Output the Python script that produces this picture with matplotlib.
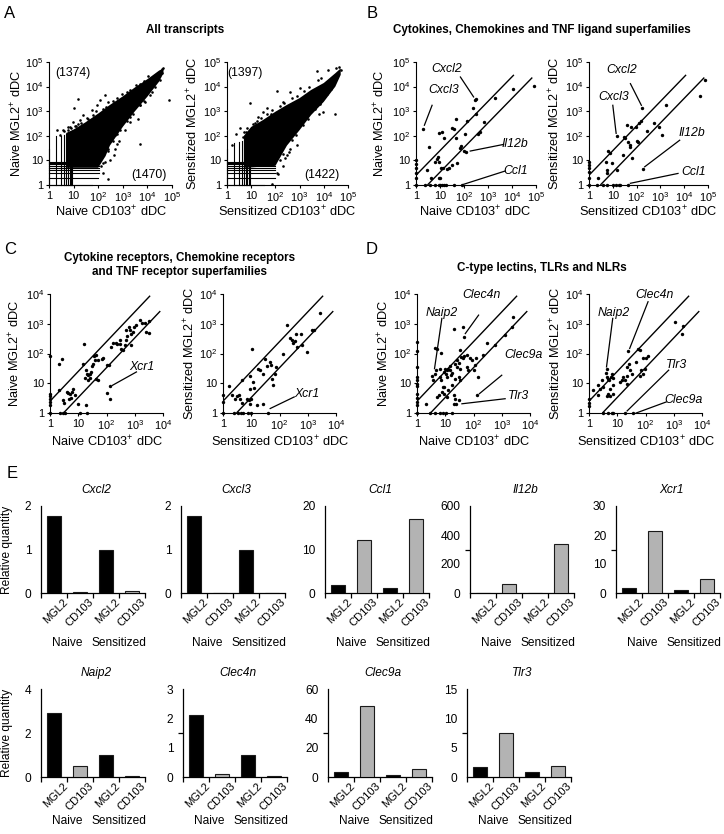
import numpy as np
import matplotlib
matplotlib.use('Agg')
import matplotlib.pyplot as plt
from matplotlib.ticker import FixedLocator, NullLocator
from matplotlib.transforms import ScaledTranslation

plt.rcParams['font.family'] = ['Liberation Sans', 'DejaVu Sans']
plt.rcParams['mathtext.fontset'] = 'custom'
plt.rcParams['mathtext.rm'] = 'Liberation Sans'
plt.rcParams['mathtext.it'] = 'Liberation Sans:italic'
plt.rcParams['mathtext.bf'] = 'Liberation Sans:bold'

# ---------------- DATA ----------------
# Panel A: dense cloud envelope (x, upper y) and (x, lower y), low-count columns/rows, outliers
a1_hi_x = [5, 10, 30, 100, 300, 1000, 3000, 1e4, 3e4, 4.5e4]
a1_hi_y = [130, 180, 350, 800, 1800, 4000, 9000, 2e4, 4.5e4, 5.5e4]
a1_lo_x = [4.5e4, 3e4, 1e4, 3000, 1000, 300, 200, 100, 5]
a1_lo_y = [3.5e4, 1.6e4, 3900, 950, 230, 40, 15, 5, 5]
a1_col_x = [1, 2, 3, 4, 5, 6, 7, 8, 9]
a1_col_top = [30, 100, 100, 110, 120, 120, 130, 130, 150]
a1_row_y = [1, 2, 3, 4, 5, 6, 7, 8, 9]
a1_row_end = [55, 100, 110, 110, 110, 110, 110, 110, 110]
a1_out_x = [14.7, 10.4, 3.8, 2.2, 2.8, 6.1, 9.8, 18, 25, 55, 88, 120, 190, 5100, 7.3e4, 3.9e4,
            4.4e4, 4.1e4, 3.5e4, 2.8e4, 2.6e4, 2e4, 780, 1250, 2000, 490, 300, 240, 420, 190,
            260, 570, 2700, 5100, 8200, 1.3e4, 650, 1600, 3.2e4, 4e3,
            4, 6, 8, 12, 15, 20, 40, 60, 150, 200, 400, 600, 1500, 2000, 5000, 7000,
            150, 130, 250, 400, 600, 800, 1500, 2000, 5000, 7000, 1.5e4, 2e4, 150, 300, 500, 700,
            7, 11, 35, 80, 250, 900, 3500, 1.1e4]
a1_out_y = [3050, 1390, 168, 168, 105, 230, 370, 430, 700, 1100, 1800, 2900, 4600, 48, 2860, 3.5e4,
            5.8e4, 5.2e4, 4.4e4, 3.1e4, 3.6e4, 2.8e4, 270, 170, 370, 105, 66, 30, 16, 8.5,
            1.8, 48, 800, 1800, 2400, 4600, 2600, 3500, 1.9e4, 480,
            150, 170, 200, 250, 300, 330, 500, 700, 1200, 1500, 2600, 3300, 6000, 7000, 1.3e4, 1.7e4,
            8, 6, 25, 60, 120, 180, 400, 600, 1800, 2500, 6000, 1e4, 3, 10, 30, 60,
            220, 260, 520, 1000, 2400, 5200, 1.2e4, 2.6e4]

a2_hi_x = [5, 10, 30, 100, 300, 1000, 3000, 1e4, 3e4, 5e4]
a2_hi_y = [100, 230, 430, 950, 1800, 3400, 7300, 1.4e4, 3.5e4, 5.5e4]
a2_lo_x = [5e4, 3e4, 1e4, 3000, 1000, 300, 100, 5]
a2_lo_y = [3e4, 1e4, 2400, 700, 170, 40, 6, 5]
a2_col_x = [1, 2, 3, 4, 5, 6, 7, 8, 9]
a2_col_top = [30, 50, 55, 60, 60, 70, 80, 90, 100]
a2_row_y = [1, 2, 3, 4, 5, 6, 7, 8, 9]
a2_row_end = [35, 100, 100, 100, 100, 100, 100, 100, 100]
a2_out_x = [3.3, 1.6, 9.1, 32, 47, 64, 113, 200, 400, 1030, 5000, 1.5e4, 3.3e4, 5.2e4, 9300,
            2.8e4, 6500, 750, 290, 210, 640, 130, 70, 20, 15, 2.4, 4.5, 6, 600, 2500, 4e4, 4.4e4,
            5, 7, 12, 18, 25, 45, 70, 150, 220, 500, 800, 1500, 2500, 6000, 8000,
            150, 200, 350, 500, 700, 1400, 2200, 4500, 7000, 1.4e4, 2e4, 250, 400, 120]
a2_out_y = [210, 44, 2100, 950, 1300, 740, 6600, 2460, 6300, 8600, 4.4e4, 4.8e4, 5.6e4, 4.8e4, 950,
            740, 740, 41, 16, 6.2, 150, 2.8, 1.1, 600, 330, 120, 90, 140, 2000, 5000, 3.4e4, 6.5e4,
            140, 200, 300, 400, 520, 800, 1100, 1600, 2100, 3300, 4200, 6500, 9500, 1.8e4, 2.2e4,
            10, 18, 22, 70, 110, 280, 500, 1200, 2000, 5000, 8000, 12, 30, 3]

# Panel B
b1_x = [2, 277, 316, 229, 330, 2000, 1.07e4, 8.5e4, 48, 660, 133, 32, 40, 12, 9, 14, 3.6, 48, 107,
        380, 480, 66, 97, 125, 72, 51, 32, 23, 19, 7.5, 8.3, 9.4, 6.4, 11.4, 12.9, 3, 4.4, 8.8, 10.3,
        1, 1, 1, 1, 1, 1, 2.4, 4, 6.4, 8.8, 10.3, 12, 14, 18, 37, 82]
b1_y = [186, 2800, 3100, 1300, 800, 3500, 8300, 1.1e4, 500, 370, 400, 200, 190, 145, 125, 83, 36, 78, 113,
        117, 137, 33, 25, 22, 38, 7.5, 6.5, 4.7, 4.3, 11, 14, 8.8, 8.8, 5, 4.7, 4, 2, 2, 1.9,
        10, 7, 5, 3, 2, 1, 1, 1, 1, 1, 1, 1, 1, 1, 1, 1]
b2_x = [7.6e4, 4.7e4, 1750, 175, 148, 125, 270, 550, 850, 1200, 90, 40, 60, 100, 114, 31, 34, 43, 52,
        55, 15, 6.5, 7.5, 5.2, 5.5, 5.9, 9, 15, 28, 194, 62, 2.3,
        1, 1, 1, 1, 1, 1, 2.1, 4, 5.5, 10.7, 14, 19, 20, 43]
b2_y = [1.8e4, 4200, 1870, 1290, 390, 330, 150, 330, 230, 110, 230, 280, 230, 60, 54, 91, 80, 54, 42,
        36, 98, 24, 20, 8.8, 4, 3, 7.5, 4, 16, 4.5, 12, 2,
        8.8, 6.5, 4.7, 3.5, 1.9, 1, 1, 1, 1, 1, 1, 1, 1, 1]

# Panel C
c1_x = [1, 1, 1, 1, 1, 1, 1, 2.1, 2.1, 2.6, 3, 3.2, 3.9, 4.5, 5.1, 5.8, 4.9, 5.5, 6.6, 7.6,
        2.25, 3, 3.4, 11.5, 20, 10, 16, 15, 18.6, 20.8, 22.5, 25.8, 28, 17, 22.5, 25.8, 19,
        29.5, 33.7, 38.6, 35.7, 42, 50, 44, 50, 70, 76, 106, 124, 130, 105, 130, 142,
        172, 212, 237, 295, 310, 337, 385, 440, 510, 535, 510, 660, 760, 870, 630, 920, 760,
        1150, 1500, 1850, 2250, 2600, 3200, 3200]
c1_y = [81, 4.5, 3.6, 3.0, 2.3, 1.8, 1, 44, 5.8, 63, 2.8, 2.1, 5.1, 4.8, 4.4, 5.1, 3.0, 3.1, 6.6, 3.9,
        1, 1, 1, 1, 1, 2, 205, 44, 27, 21, 18.6, 21, 24, 15.5, 12.6, 15.5, 1.9,
        37, 46, 60, 81, 88, 60, 14, 12.6, 63, 73, 40, 40, 8, 4.7, 3, 167,
        218, 228, 207, 280, 207, 147, 130, 190, 280, 380, 610, 610, 470, 540, 790, 790, 190,
        900, 1320, 1020, 1020, 540, 500, 1200]
c2_x = [1, 1, 1, 1.6, 2.1, 2.5, 3.3, 4.2, 5.3, 7.4, 9.6, 38, 2.7, 3.1, 3.6, 4.1, 4.7, 4.7,
        7, 8, 8.7, 9.7, 10.6, 9.2, 11.4, 8.7, 12.8, 15.8, 26, 18, 20.8, 27, 31, 36, 47, 49.5,
        53, 58, 70, 76, 138, 180, 240, 270, 310, 355, 385, 410, 610, 1370, 1650, 2700, 560, 920]
c2_y = [3.9, 2.4, 1, 8, 3.9, 1, 1, 1, 1, 1, 1, 1, 3.0, 3.6, 3.9, 3.0, 2.1, 13,
        3, 2.7, 2, 3, 140, 17, 11, 6.6, 7.1, 1.8, 2, 31, 27, 21, 63, 37, 52, 40,
        14.4, 9, 21, 34, 100, 900, 320, 280, 217, 265, 470, 167, 190, 610, 640, 2250, 470, 115]

# Panel D
d1_x = [1, 1, 1, 1, 1, 1, 1, 1, 1, 1, 1, 1, 2.1, 3.4, 3.7, 4.4, 4.8, 4.2, 5, 7,
        6.6, 6.3, 7, 8.3, 9.2, 11.4, 7.6, 5.8, 5.1, 3, 4.4, 6.6, 8.3, 10.4, 17,
        10, 10.8, 12, 13, 14.2, 15, 15.8, 17, 9.2, 11.4, 8.7, 13, 17, 19.6, 22.5, 29.5,
        20, 44, 47, 32, 36.6, 42, 47, 58, 25.8, 29.5, 22.5, 25.8, 33.7, 76, 87, 58, 66,
        29.5, 33.7, 22.5, 125, 114, 100, 295, 580, 140, 130, 25, 20, 1300, 2300, 2500, 225]
d1_y = [245, 120, 36, 16, 12.6, 9.7, 8, 4.5, 3.2, 2.3, 1.8, 1, 2, 17, 12.6, 21, 27, 155, 137, 105,
        31, 16, 12.6, 7.5, 4.5, 3.5, 5.1, 3.9, 3.5, 1, 1, 1, 1, 1, 1,
        29, 20, 27, 31, 37, 27, 18.6, 22, 24, 16, 7.5, 5.8, 8.6, 3.9, 3, 2.7,
        650, 750, 360, 130, 77, 73, 81, 88, 60, 48, 44, 34, 31, 68, 60, 36, 27,
        16, 12.6, 14.4, 68, 40, 27, 230, 190, 16, 4, 2, 2, 415, 790, 1700, 88]
d2_x = [1, 1, 1, 1.4, 2.1, 2.4, 2.8, 3.2, 2.1, 4, 4.2, 4.8, 5.2, 5.8, 6.3, 6.8, 7.2, 5.5, 4.8,
        4.2, 5.5, 6.8, 3.2, 4.8, 6.3, 7.2, 4.2, 12.4, 14.2, 16.3, 18.6, 21.3, 22.5, 24,
        55, 66, 83, 108, 124, 48, 28, 32, 22.5, 26.5, 63, 72, 83, 95, 1090, 2100, 2000, 19, 36]
d2_y = [3, 2.2, 1.7, 5.8, 8.6, 6.6, 12.6, 7.5, 3.9, 22, 16, 14.4, 12.6, 16, 20, 15.5, 8.6, 6.6, 4.5,
        3.6, 3.6, 4.2, 1, 1, 1, 1, 29, 11, 13.3, 16.4, 12.6, 17, 9.7, 120,
        147, 130, 73, 68, 81, 52, 27, 21, 36, 46, 17, 27, 21, 31, 1170, 830, 470, 1, 1]

# Panel E: qPCR relative quantities [Naive MGL2, Naive CD103, Sensitized MGL2, Sensitized CD103]
cells = ['MGL2', 'CD103', 'MGL2', 'CD103']
groups = ['Naive', 'Sensitized']
genes_e = ['Cxcl2', 'Cxcl3', 'Ccl1', 'Il12b', 'Xcr1', 'Naip2', 'Clec4n', 'Clec9a', 'Tlr3']
rq = {
    'Cxcl2': [1.77, 0.03, 1.0, 0.04],
    'Cxcl3': [1.77, 0.01, 1.0, 0.01],
    'Ccl1': [1.9, 12.2, 1.15, 16.9],
    'Il12b': [2, 64, 1.5, 337],
    'Xcr1': [1.7, 21.4, 0.9, 5.0],
    'Naip2': [2.93, 0.49, 0.99, 0.05],
    'Clec4n': [2.12, 0.09, 0.76, 0.03],
    'Clec9a': [3.2, 48.5, 1.2, 5.7],
    'Tlr3': [1.66, 7.5, 0.8, 1.9],
}
ymaxes = {'Cxcl2': 2, 'Cxcl3': 2, 'Ccl1': 20, 'Il12b': 600, 'Xcr1': 30,
          'Naip2': 4, 'Clec4n': 3, 'Clec9a': 60, 'Tlr3': 15}
ylabels_e = {'Cxcl2': [0, 1, 2], 'Cxcl3': [0, 1, 2], 'Ccl1': [0, 10, 20], 'Il12b': [0, 200, 400, 600],
             'Xcr1': [0, 10, 20, 30], 'Naip2': [0, 2, 4], 'Clec4n': [0, 1, 2, 3],
             'Clec9a': [0, 20, 40, 60], 'Tlr3': [0, 5, 10, 15]}

# ---------------- FIGURE ----------------
W, H = 724, 834
fig = plt.figure(figsize=(W / 100, H / 100), dpi=100)


def ax_px(x0, x1, ytop, ybot):
    return fig.add_axes([x0 / W, 1 - ybot / H, (x1 - x0) / W, (ybot - ytop) / H])


def ftext(x, y, s, **kw):
    fig.text(x / W, 1 - y / H, s, **kw)


def dec_labels(n):
    return ['1', '10'] + [r'$10^{%d}$' % k for k in range(2, n + 1)]


def style_log(ax, n):
    ax.set_xscale('log')
    ax.set_yscale('log')
    ax.set_xlim(1, 10 ** n)
    ax.set_ylim(1, 10 ** n)
    for s in ['top', 'right']:
        ax.spines[s].set_visible(False)
    for s in ['left', 'bottom']:
        ax.spines[s].set_linewidth(0.8)
    decs = [10 ** k for k in range(n + 1)]
    for axis in (ax.xaxis, ax.yaxis):
        axis.set_major_locator(FixedLocator(decs))
        axis.set_minor_locator(NullLocator())
    ax.set_xticklabels(dec_labels(n))
    ax.set_yticklabels(dec_labels(n))
    ax.tick_params(length=2.5, width=0.8, labelsize=7.9, pad=1.5, direction='out')
    ax.patch.set_alpha(0)


def dots(ax, x, y, s=6):
    ax.scatter(x, y, s=s, c='k', marker='o', linewidths=0, clip_on=False, zorder=3)


def diag_lines(ax, up_end, lo_end, fold_up=2.5, fold_lo=3.0):
    xu = np.array([1, up_end])
    ax.plot(xu, xu * fold_up, color='k', lw=1.0, solid_capstyle='butt')
    xl = np.array([fold_lo, lo_end])
    ax.plot(xl, xl / fold_lo, color='k', lw=1.0, solid_capstyle='butt')


def annot(ax, label, txy, l0, l1):
    ax.plot([10 ** l0[0], 10 ** l1[0]], [10 ** l0[1], 10 ** l1[1]], color='k', lw=0.9, clip_on=False)
    ax.text(10 ** txy[0], 10 ** txy[1], label, style='italic', fontsize=8.8, ha='center',
            va='center', clip_on=False)


def cloud(ax, hx, hy, lx, ly, cx, ctop, ry, rend):
    ax.fill(list(hx) + list(lx), list(hy) + list(ly), color='k', lw=0, zorder=2)
    for xv, t in zip(cx, ctop):
        ax.plot([xv, xv], [1, t], color='k', lw=0.8, clip_on=False, zorder=2)
    for yv, e in zip(ry, rend):
        ax.plot([1, e], [yv, yv], color='k', lw=0.8, clip_on=False, zorder=2)


# ---------- Panel A ----------
axA1 = ax_px(49, 172, 62, 185)
style_log(axA1, 5)
cloud(axA1, a1_hi_x, a1_hi_y, a1_lo_x, a1_lo_y, a1_col_x, a1_col_top, a1_row_y, a1_row_end)
dots(axA1, a1_out_x, a1_out_y, s=3.5)
axA1.text(10 ** 0.25, 10 ** 4.55, '(1374)', fontsize=8.8, ha='left', va='center')
axA1.text(10 ** 4.8, 10 ** 0.42, '(1470)', fontsize=8.8, ha='right', va='center')

axA2 = ax_px(227, 348, 62, 185)
style_log(axA2, 5)
cloud(axA2, a2_hi_x, a2_hi_y, a2_lo_x, a2_lo_y, a2_col_x, a2_col_top, a2_row_y, a2_row_end)
dots(axA2, a2_out_x, a2_out_y, s=3.5)
axA2.text(10 ** 0.03, 10 ** 4.55, '(1397)', fontsize=8.8, ha='left', va='center')
axA2.text(10 ** 4.66, 10 ** 0.42, '(1422)', fontsize=8.8, ha='right', va='center')

# ---------- Panel B ----------
axB1 = ax_px(416, 536, 62, 185)
style_log(axB1, 5)
diag_lines(axB1, 1.2e4, 7e4)
dots(axB1, b1_x, b1_y)
annot(axB1, 'Cxcl2', (1.29, 4.73), (1.85, 4.39), (2.40, 3.58))
annot(axB1, 'Cxcl3', (1.15, 3.85), (0.67, 3.24), (0.35, 2.43))
annot(axB1, 'Il12b', (4.10, 1.65), (3.65, 1.65), (2.26, 1.38))
annot(axB1, 'Ccl1', (4.17, 0.57), (3.72, 0.57), (1.99, 0.03))

axB2 = ax_px(589, 708, 62, 185)
style_log(axB2, 5)
diag_lines(axB2, 1.2e4, 7e4)
dots(axB2, b2_x, b2_y)
annot(axB2, 'Cxcl2', (1.39, 4.66), (1.74, 4.12), (2.20, 3.24))
annot(axB2, 'Cxcl3', (1.03, 3.58), (1.00, 3.24), (1.14, 2.10))
annot(axB2, 'Il12b', (4.31, 2.10), (3.81, 1.82), (2.34, 0.74))
annot(axB2, 'Ccl1', (4.39, 0.51), (3.74, 0.47), (1.74, 0.07))

# ---------- Panel C ----------
axC1 = ax_px(50, 163, 294, 413)
style_log(axC1, 4)
diag_lines(axC1, 3500, 8000)
dots(axC1, c1_x, c1_y)
annot(axC1, 'Xcr1', (3.24, 1.55), (3.06, 1.38), (2.21, 0.93))

axC2 = ax_px(223, 336, 294, 413)
style_log(axC2, 4)
diag_lines(axC2, 3500, 8000)
dots(axC2, c2_x, c2_y)
annot(axC2, 'Xcr1', (2.96, 0.65), (2.52, 0.54), (1.67, 0.15))

# ---------- Panel D ----------
axD1 = ax_px(417, 530, 294, 413)
style_log(axD1, 4)
diag_lines(axD1, 3500, 8000)
dots(axD1, d1_x, d1_y)
annot(axD1, 'Naip2', (0.88, 3.35), (0.88, 3.18), (0.62, 1.49))
annot(axD1, 'Clec4n', (2.29, 3.97), (2.18, 3.29), (1.71, 2.67))
annot(axD1, 'Clec9a', (3.76, 1.94), (3.00, 1.27), (2.21, 0.65))
annot(axD1, 'Tlr3', (3.60, 0.56), (3.12, 0.48), (1.59, 0.31))

axD2 = ax_px(589, 702, 294, 413)
style_log(axD2, 4)
diag_lines(axD2, 3500, 8000)
dots(axD2, d2_x, d2_y)
annot(axD2, 'Naip2', (0.86, 3.35), (0.84, 3.18), (0.62, 1.55))
annot(axD2, 'Clec4n', (2.33, 3.97), (2.09, 3.74), (1.44, 2.17))
annot(axD2, 'Tlr3', (3.10, 1.60), (2.82, 1.44), (1.35, 0.07))
annot(axD2, 'Clec9a', (3.33, 0.43), (2.73, 0.37), (1.67, 0.00))

# axis labels for scatter panels
lab_kw = dict(fontsize=9.2, ha='center', va='center')
for xc, yc in [(17, 123), (380, 123)]:
    ftext(xc, yc, 'Naive MGL2$^{+}$ dDC', rotation=90, **lab_kw)
for xc, yc in [(193, 123), (555, 123)]:
    ftext(xc, yc, 'Sensitized MGL2$^{+}$ dDC', rotation=90, **lab_kw)
for xc, yc in [(15, 353), (384, 353)]:
    ftext(xc, yc, 'Naive MGL2$^{+}$ dDC', rotation=90, **lab_kw)
for xc, yc in [(190, 353), (556, 353)]:
    ftext(xc, yc, 'Sensitized MGL2$^{+}$ dDC', rotation=90, **lab_kw)
for xc, yc in [(111, 212), (475, 212), (107, 442), (474, 442)]:
    ftext(xc, yc, 'Naive CD103$^{+}$ dDC', **lab_kw)
for xc, yc in [(287, 212), (648, 212), (280, 442), (646, 442)]:
    ftext(xc, yc, 'Sensitized CD103$^{+}$ dDC', **lab_kw)

# titles and panel letters
tkw = dict(fontsize=8.4, fontweight='bold', ha='center', va='center')
ftext(185, 30, 'All transcripts', **tkw)
ftext(542, 30, 'Cytokines, Chemokines and TNF ligand superfamilies', **tkw)
ftext(180, 258, 'Cytokine receptors, Chemokine receptors', **tkw)
ftext(180, 272, 'and TNF receptor superfamilies', **tkw)
ftext(542, 268, 'C-type lectins, TLRs and NLRs', **tkw)
for letter, (x, y) in {'A': (10, 13), 'B': (372, 13), 'C': (10, 250), 'D': (372, 250), 'E': (12, 473)}.items():
    ftext(x, y, letter, fontsize=12, ha='center', va='center')

# ---------- Panel E ----------
bar_colors = ['black', '#b3b3b3', 'black', '#b3b3b3']
row1 = dict(top=506, bottom=593, title_y=490, group_dy=50)
row2 = dict(top=689, bottom=777, title_y=673, group_dy=44)
layout_e = [('Cxcl2', 41, row1), ('Cxcl3', 181, row1), ('Ccl1', 325, row1), ('Il12b', 470, row1),
            ('Xcr1', 616, row1), ('Naip2', 41, row2), ('Clec4n', 183, row2), ('Clec9a', 328, row2),
            ('Tlr3', 467, row2)]
wE = 104
for gene, left, row in layout_e:
    ax = ax_px(left, left + wE, row['top'], row['bottom'])
    xpos = np.arange(1, 5)
    ax.bar(xpos, rq[gene], width=0.55, color=bar_colors, edgecolor='#1a1a1a', linewidth=0.8, zorder=3)
    ymax = ymaxes[gene]
    ax.set_xlim(0.5, 4.5)
    ax.set_ylim(0, ymax)
    for s in ['top', 'right']:
        ax.spines[s].set_visible(False)
    for s in ['left', 'bottom']:
        ax.spines[s].set_linewidth(0.9)
    ax.set_xticks(xpos)
    ax.set_xticklabels(cells, rotation=45, ha='right', rotation_mode='anchor', fontsize=8.0)
    ax.tick_params(axis='x', which='major', length=0, pad=3)
    ax.set_xticks([0.5, 1.5, 2.5, 3.5, 4.5], minor=True)
    ax.tick_params(axis='x', which='minor', length=3.5, width=0.9, direction='out')
    ax.set_yticks(ylabels_e[gene])
    ax.set_yticklabels([str(v) for v in ylabels_e[gene]], fontsize=8.6)
    ax.tick_params(axis='y', which='major', length=0, pad=7)
    ax.set_yticks([0, ymax / 2, ymax], minor=True)
    ax.tick_params(axis='y', which='minor', length=3.5, width=0.9, direction='out')
    off = ScaledTranslation(6 / 72, 0, fig.dpi_scale_trans)
    for lbl in ax.get_xticklabels():
        lbl.set_transform(lbl.get_transform() + off)
    ax.patch.set_alpha(0)
    tr = ax.get_xaxis_transform()
    hpx = row['bottom'] - row['top']
    ax.text(1.5, -row['group_dy'] / hpx, groups[0], transform=tr, ha='center', va='center', fontsize=8.6)
    ax.text(3.5, -row['group_dy'] / hpx, groups[1], transform=tr, ha='center', va='center', fontsize=8.6)
    ftext(left + wE / 2 + 3, row['title_y'], gene, style='italic', fontsize=8.6, ha='center', va='center')

ftext(7, 550, 'Relative quantity', rotation=90, fontsize=8.6, ha='center', va='center')
ftext(7, 733, 'Relative quantity', rotation=90, fontsize=8.6, ha='center', va='center')

fig.savefig('out.png', dpi=100)
